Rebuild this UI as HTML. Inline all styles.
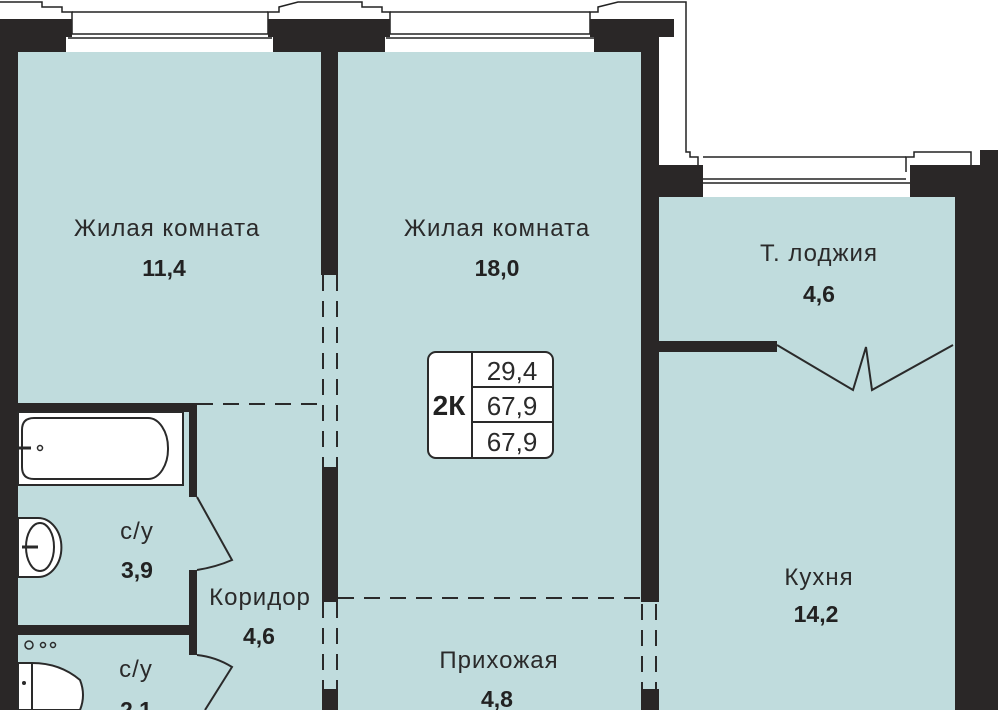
<!DOCTYPE html>
<html><head><meta charset="utf-8"><style>
html,body{margin:0;padding:0;background:#fff;}
svg{display:block}
.l{font-family:"Liberation Sans",sans-serif;font-size:24px;letter-spacing:1px;fill:#2a2a2a;text-anchor:middle;font-weight:300}
.b{font-family:"Liberation Sans",sans-serif;font-size:23px;fill:#222;text-anchor:middle;font-weight:bold}
.n{font-family:"Liberation Sans",sans-serif;font-size:26px;fill:#2a2a2a;text-anchor:middle}
</style></head><body>
<svg width="998" height="710" viewBox="0 0 998 710" xmlns="http://www.w3.org/2000/svg">
<rect x="18" y="52" width="625" height="658" fill="#c0dcdd"/>
<rect x="659" y="197" width="296" height="513" fill="#c0dcdd"/>
<rect x="641" y="600" width="18" height="90" fill="#c0dcdd"/>
<polyline points="0,2 42,2 42,7 62,7 62,12 72,12 72,34" fill="none" stroke="#222" stroke-width="1.5"/>
<polyline points="268,34 268,12 279,12 279,7 298,2 362,2 362,7 382,7 382,12 390,12 390,34" fill="none" stroke="#222" stroke-width="1.5"/>
<polyline points="590,34 590,12 598,12 598,7 618,2 686,2 686,152 690,152 690,157 698,157 698,172" fill="none" stroke="#222" stroke-width="1.5"/>
<polyline points="906,172 906,157 914,157 914,152 971,152 971,180" fill="none" stroke="#222" stroke-width="1.5"/>
<g stroke="#222" stroke-width="1.5" fill="none">
<line x1="72" y1="12" x2="268" y2="12"/><line x1="72" y1="34" x2="268" y2="34"/><line x1="68" y1="38" x2="272" y2="38"/>
<line x1="390" y1="12" x2="590" y2="12"/><line x1="390" y1="34" x2="590" y2="34"/><line x1="386" y1="38" x2="594" y2="38"/>
<line x1="703" y1="157" x2="906" y2="157"/><line x1="703" y1="179" x2="906" y2="179"/><line x1="700" y1="183" x2="910" y2="183"/>
</g>
<g fill="#2a2727">
<rect x="0" y="19" width="72" height="18"/><rect x="0" y="19" width="66" height="33"/><rect x="0" y="19" width="18" height="691"/>
<rect x="268" y="19" width="122" height="18"/><rect x="273" y="19" width="112" height="33"/>
<rect x="321" y="52" width="17" height="223"/>
<rect x="322" y="467" width="16" height="135"/>
<rect x="322" y="689" width="16" height="21"/>
<rect x="590" y="19" width="84" height="18"/><rect x="594" y="19" width="47" height="33"/>
<rect x="641" y="19" width="18" height="583"/>
<rect x="641" y="165" width="62" height="32"/>
<rect x="910" y="165" width="60" height="32"/>
<rect x="955" y="165" width="28" height="545"/>
<rect x="980" y="150" width="18" height="560"/>
<rect x="659" y="341" width="118" height="11"/>
<rect x="18" y="403" width="179" height="9"/>
<rect x="189" y="403" width="8" height="94"/>
<rect x="189" y="570" width="8" height="65"/>
<rect x="18" y="625" width="179" height="10"/>
<rect x="189" y="635" width="8" height="20"/>
<rect x="641" y="689" width="18" height="21"/>
</g>
<g stroke="#2a2a2a" stroke-width="2" stroke-dasharray="16,10" fill="none">
<line x1="197" y1="404" x2="322" y2="404"/>
<line x1="323" y1="275" x2="323" y2="467"/><line x1="337" y1="275" x2="337" y2="467"/>
<line x1="323" y1="602" x2="323" y2="689"/><line x1="337" y1="602" x2="337" y2="689"/>
<line x1="338" y1="598" x2="641" y2="598"/>
<line x1="642" y1="604" x2="642" y2="689"/><line x1="656" y1="604" x2="656" y2="689"/>
</g>
<g stroke="#2a2a2a" stroke-width="2" fill="none">
<polyline points="777,345 853,390 866,347 872,390 953,345"/>
<path d="M197,497 L232,560 Q216,567 197,570"/>
<path d="M197,655 Q216,657 232,667 L205,710"/>
</g>
<rect x="18" y="412" width="165" height="73" fill="#fff" stroke="#2a2a2a" stroke-width="2"/>
<path d="M34,418 H148 A20,30 0 0 1 168,448 A20,30 0 0 1 148,479 H34 Q22,479 22,467 V430 Q22,418 34,418 Z" fill="#fff" stroke="#2a2a2a" stroke-width="2"/>
<circle cx="40" cy="448" r="2.5" fill="none" stroke="#2a2a2a" stroke-width="1.5"/>
<line x1="18" y1="448" x2="31" y2="448" stroke="#2a2a2a" stroke-width="3"/>
<path d="M18,518 H38 A23,29 0 0 1 38,577 H18 Z" fill="#fff" stroke="#2a2a2a" stroke-width="2"/>
<ellipse cx="40" cy="547" rx="14" ry="24" fill="none" stroke="#2a2a2a" stroke-width="2"/>
<line x1="22" y1="547" x2="38" y2="547" stroke="#2a2a2a" stroke-width="3"/>
<circle cx="29" cy="645" r="4" fill="none" stroke="#2a2a2a" stroke-width="1.5"/>
<circle cx="43" cy="645" r="2.5" fill="none" stroke="#2a2a2a" stroke-width="1.5"/>
<circle cx="53" cy="645" r="2.5" fill="none" stroke="#2a2a2a" stroke-width="1.5"/>
<path d="M18,663 H32 Q60,663 80,680 Q86,695 80,710 H18 Z" fill="#fff" stroke="#2a2a2a" stroke-width="2"/>
<line x1="32" y1="663" x2="32" y2="710" stroke="#2a2a2a" stroke-width="2"/>
<circle cx="24" cy="683" r="2" fill="#2a2a2a"/>
<rect x="428" y="352" width="125" height="106" rx="8" fill="#fff" stroke="#2a2a2a" stroke-width="2"/>
<line x1="472" y1="352" x2="472" y2="458" stroke="#2a2a2a" stroke-width="2"/>
<line x1="472" y1="387" x2="553" y2="387" stroke="#2a2a2a" stroke-width="2"/>
<line x1="472" y1="422" x2="553" y2="422" stroke="#2a2a2a" stroke-width="2"/>
<text x="449" y="415" class="b" style="font-size:28px">2К</text>
<text x="512" y="380" class="n">29,4</text>
<text x="512" y="415" class="n">67,9</text>
<text x="512" y="451" class="n">67,9</text>
<text x="167" y="236" class="l">Жилая комната</text><text x="164" y="276" class="b">11,4</text>
<text x="497" y="236" class="l">Жилая комната</text><text x="497" y="276" class="b">18,0</text>
<text x="819" y="261" class="l">Т. лоджия</text><text x="819" y="302" class="b">4,6</text>
<text x="819" y="585" class="l">Кухня</text><text x="816" y="622" class="b">14,2</text>
<text x="137" y="539" class="l">с/у</text><text x="137" y="578" class="b">3,9</text>
<text x="260" y="605" class="l">Коридор</text><text x="259" y="644" class="b">4,6</text>
<text x="499" y="668" class="l">Прихожая</text><text x="497" y="707" class="b">4,8</text>
<text x="136" y="677" class="l">с/у</text><text x="136" y="718" class="b">2,1</text>
</svg>
</body></html>
